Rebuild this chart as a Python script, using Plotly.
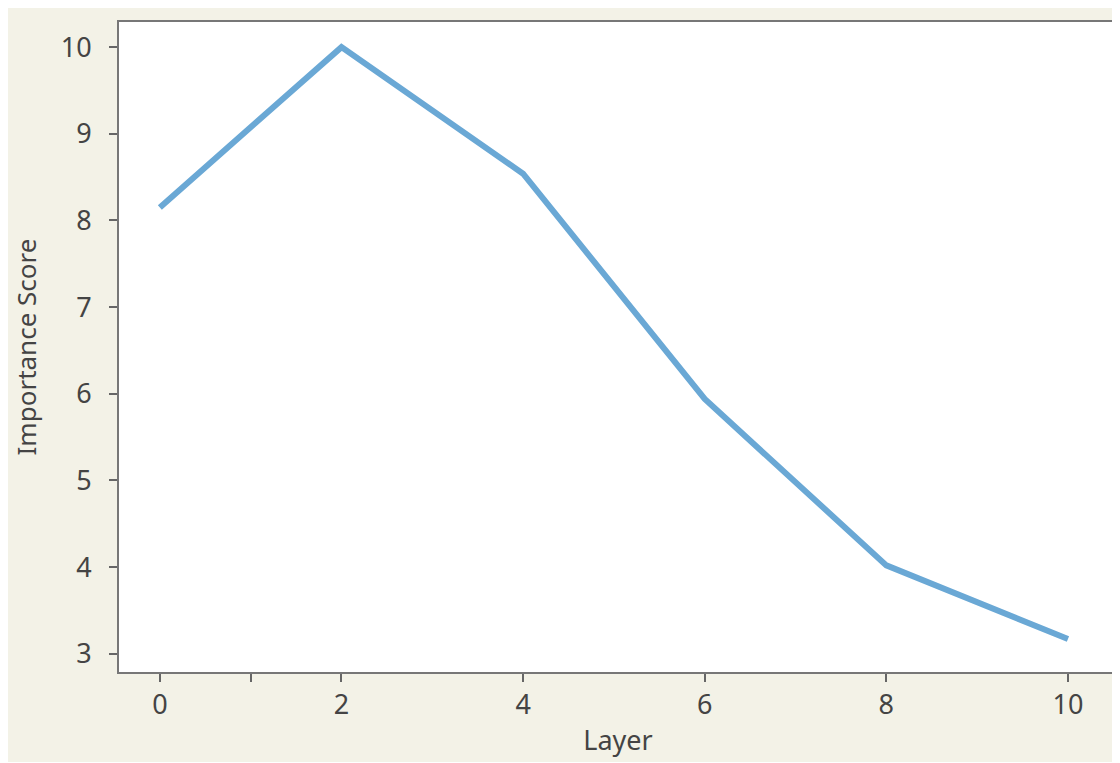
import plotly.graph_objects as go

# layer importance values
layers = [0, 2, 4, 6, 8, 10]
scores = [8.15, 10.0, 8.54, 5.94, 4.02, 3.17]

x_tickvals = [0, 1, 2, 4, 6, 8, 10]
x_ticktext = ['0', '', '2', '4', '6', '8', '10']
y_tickvals = [3, 4, 5, 6, 7, 8, 9, 10]

fig = go.Figure()

fig.add_trace(go.Scatter(
    x=layers,
    y=scores,
    mode='lines',
    line=dict(color='#6aa8d5', width=6),
    showlegend=False
))

axis_style = dict(
    showline=True, linecolor='#777777', linewidth=2, mirror=True,
    ticks='outside', ticklen=8, tickwidth=2, tickcolor='#666666',
    showgrid=False, zeroline=False,
    tickfont=dict(size=27, color='#444444', family='Noto Sans'),
)

fig.update_layout(
    width=1112, height=754,
    paper_bgcolor='#f3f2e7',
    plot_bgcolor='white',
    margin=dict(l=111, r=1, t=14, b=90),
    font=dict(family='Noto Sans', color='#444444'),
    xaxis=dict(
        range=[-0.45, 10.54],
        tickvals=x_tickvals, ticktext=x_ticktext,
        ticklabelstandoff=0,
        title=dict(text='Layer', font=dict(size=27, color='#444444'), standoff=10),
        **axis_style
    ),
    yaxis=dict(
        range=[2.79, 10.29],
        tickvals=y_tickvals,
        ticklabelstandoff=12,
        title=dict(text='Importance Score', font=dict(size=26, color='#444444'), standoff=21),
        **axis_style
    ),
)

fig.write_html("out.html")
